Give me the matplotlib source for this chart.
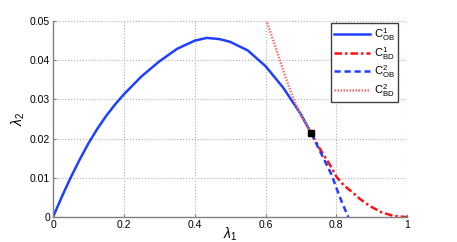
import numpy as np
import matplotlib
matplotlib.use("Agg")
import matplotlib.pyplot as plt

plt.rcParams['font.family'] = ['Liberation Sans', 'DejaVu Sans']
plt.rcParams['mathtext.fontset'] = 'custom'
plt.rcParams['mathtext.rm'] = 'Liberation Sans'
plt.rcParams['mathtext.it'] = 'Liberation Sans:italic'

# values
ob1_x = [0.0, 0.025, 0.05, 0.075, 0.1, 0.125, 0.15, 0.175, 0.2, 0.25, 0.3, 0.35, 0.4, 0.434,
         0.47, 0.5, 0.55, 0.6, 0.65, 0.7, 0.729]
ob1_y = [0.0, 0.0052, 0.0101, 0.0146, 0.0188, 0.0225, 0.0258, 0.0287, 0.0313, 0.0359, 0.0397,
         0.0429, 0.0450, 0.0457, 0.0454, 0.0447, 0.0425, 0.0385, 0.0330, 0.0262, 0.0214]

bd1_x = [0.729, 0.754, 0.782, 0.801, 0.820, 0.844, 0.867, 0.895, 0.928, 0.961, 1.0]
bd1_y = [0.0214, 0.0173, 0.0133, 0.0102, 0.0082, 0.0064, 0.0046, 0.0028, 0.0012, 0.0003, 0.0]

ob2_x = [0.729, 0.750, 0.766, 0.787, 0.801, 0.816, 0.830, 0.834]
ob2_y = [0.0214, 0.0175, 0.0146, 0.0107, 0.0072, 0.0037, 0.0008, 0.0]

bd2_x = [0.602, 0.622, 0.641, 0.660, 0.679, 0.698, 0.717, 0.729]
bd2_y = [0.0503, 0.0450, 0.0399, 0.0348, 0.0302, 0.0262, 0.0232, 0.0214]

pt_x, pt_y = 0.729, 0.0214

fig = plt.figure(figsize=(4.57, 2.42), dpi=100)
ax = fig.add_axes([0.116, 0.103, 0.775, 0.81])

ax.plot(ob1_x, ob1_y, color='#2040ff', lw=1.8, label=r'$\mathrm{C}^{1}_{\mathrm{OB}}$')
ax.plot(bd1_x, bd1_y, color='#ff1010', lw=1.8, ls=(0, (3, 1.2, 1, 1.2)), label=r'$\mathrm{C}^{1}_{\mathrm{BD}}$')
ax.plot(ob2_x, ob2_y, color='#2040ff', lw=1.8, ls=(0, (2.5, 1.5)), label=r'$\mathrm{C}^{2}_{\mathrm{OB}}$')
ax.plot(bd2_x, bd2_y, color='#ff7070', lw=1.8, ls=(0, (0.6, 0.6)), label=r'$\mathrm{C}^{2}_{\mathrm{BD}}$')
ax.plot([pt_x], [pt_y], 's', color='black', ms=5)

ax.set_xlim(0, 1)
ax.set_ylim(0, 0.05)
ax.set_xticks([0, 0.2, 0.4, 0.6, 0.8, 1])
ax.set_xticklabels(['0', '0.2', '0.4', '0.6', '0.8', '1'])
ax.set_yticks([0, 0.01, 0.02, 0.03, 0.04, 0.05])
ax.set_yticklabels(['0', '0.01', '0.02', '0.03', '0.04', '0.05'])
ax.tick_params(direction='in', length=2, labelsize=7.5, color='#808080', pad=2)
ax.grid(True, ls=':', color='#b0b0b0', lw=0.8)
for s in ['top', 'right']:
    ax.spines[s].set_visible(False)
for s in ['left', 'bottom']:
    ax.spines[s].set_color('#808080')
    ax.spines[s].set_linewidth(1.0)

ax.set_xlabel(r'$\lambda_1$', fontsize=10, labelpad=-3)
ax.set_ylabel(r'$\lambda_2$', fontsize=10, labelpad=2)

leg = ax.legend(loc='upper right', bbox_to_anchor=(0.975, 0.99), borderaxespad=0, fontsize=8,
                fancybox=False, framealpha=1, edgecolor='#404040',
                handlelength=3.2, handletextpad=0.4, borderpad=0.3, labelspacing=0.15)
leg.get_frame().set_linewidth(1.0)

fig.savefig('out.png', dpi=100)
